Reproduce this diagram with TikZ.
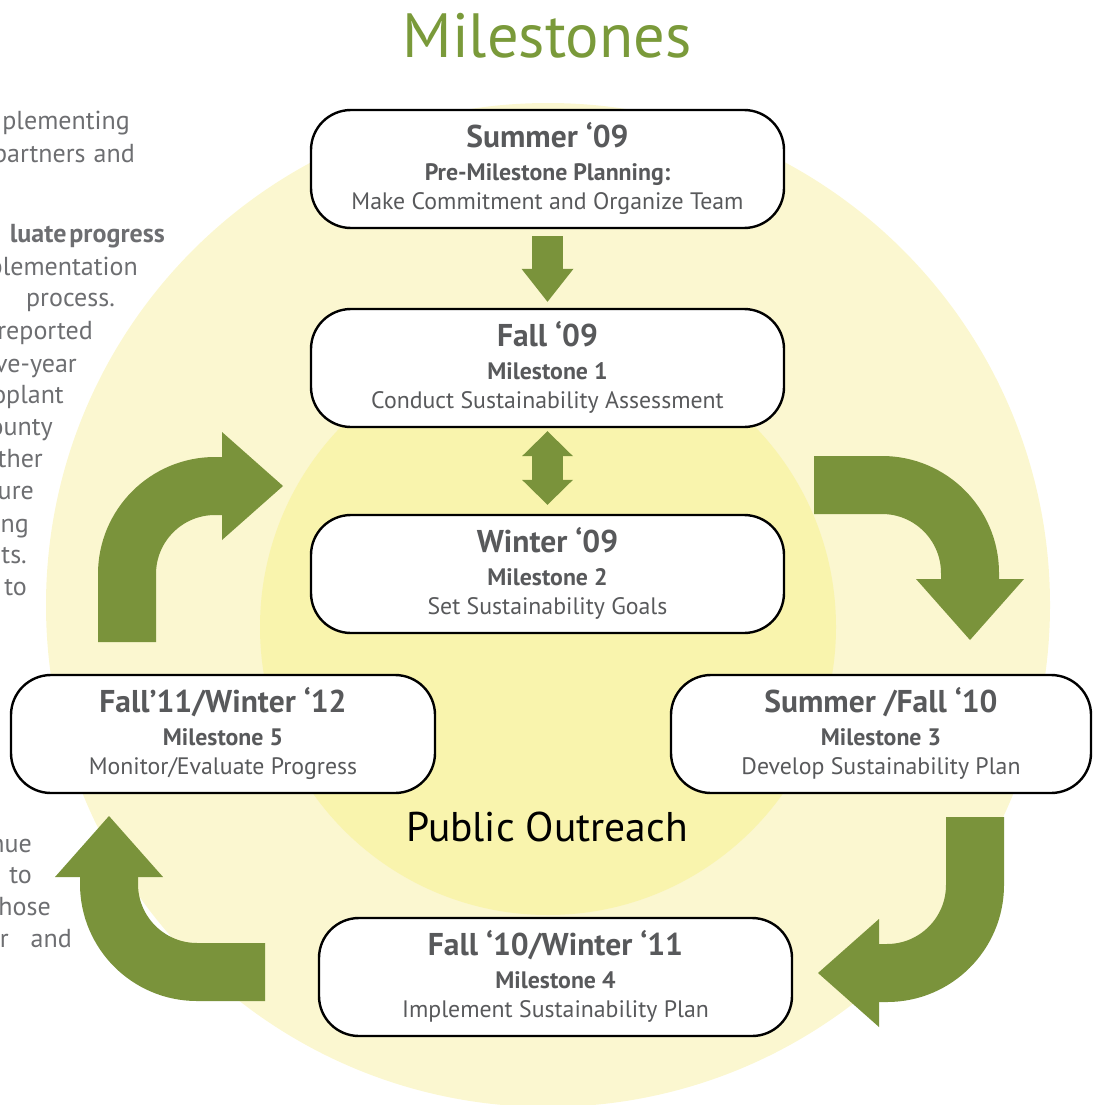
\documentclass[tikz,border=0pt]{standalone}
\usepackage{fontspec}
\setmainfont{PT Sans}
\usetikzlibrary{arrows.meta,calc}
\definecolor{cOut}{HTML}{FBF7D0}
\definecolor{cIn}{HTML}{F9F4AD}
\definecolor{cLeaf}{HTML}{7A933B}
\definecolor{cHead}{HTML}{7A9A3A}
\definecolor{cTxt}{HTML}{58595B}
\definecolor{cSide}{HTML}{6D6E71}
% three lines of a milestone box: period, step, task
\newcommand\msText[3]{\rule{0pt}{25pt}{\fontsize{31.5}{30}\selectfont\bfseries #1}\\[4pt]{\bfseries #2}\\#3\rule[-7pt]{0pt}{7pt}}

\begin{document}
\begin{tikzpicture}[x=1pt,y=-1pt,
  mbox/.style={draw=black,line width=2.4pt,fill=white,rounded corners=40pt,minimum width=473pt,minimum height=118pt,inner sep=0pt,align=center,text=cTxt,font=\fontsize{23.8}{29}\selectfont},
  leaf/.style={draw=cLeaf,line width=58pt,rounded corners=88pt,-{Triangle[length=61pt,width=108pt,line width=0pt]}},
  stem/.style={draw=cLeaf,line width=31pt},
  side/.style={anchor=base east,inner sep=0pt,text=cSide,font=\fontsize{26}{30}\selectfont}]
\useasboundingbox (0,0) rectangle (1093,1105);
\clip (0,0) rectangle (1093,1105);
% ---------- background discs ----------
\fill[cOut] (548,605) circle[radius=502pt];
\fill[cIn] (548,627) circle[radius=288pt];
% ---------- text running along the left edge ----------
\node[side] (t1) at (130,130) {plementing};
\node[side] (t2) at (135,162) {partners\hspace{8pt}and};
\node[side] (t3) at (165,242) {\bfseries luate\hspace{3pt}progress};
\node[side] (t4) at (138,275) {plementation};
\node[side] (t5) at (115,306) {process.};
\node[side] (t6) at (93,339) {reported};
\node[side] (t7) at (77,372) {ve-year};
\node[side] (t8) at (64,403) {oplant};
\node[side] (t9) at (53,435) {ounty};
\node[side] (t10) at (43,467) {ther};
\node[side] (t11) at (34,499) {ure};
\node[side] (t12) at (29,532) {ng};
\node[side] (t13) at (27,563) {nts.};
\node[side] (t14) at (27,595) {to};
\node[side] (t15) at (32,852) {nue};
\node[side] (t16) at (32,883) {to};
\node[side] (t17) at (51,915) {hose};
\node[side] (t18) at (72,947) {r\hspace{22pt}and};
% ---------- headings ----------
\node[anchor=base,text=cHead,font=\fontsize{62.5}{62}\selectfont] (title) at (547,58) {Milestones};
\node[anchor=base,font=\fontsize{41.5}{41}\selectfont] (pub) at (547,841) {Public Outreach};
% ---------- milestone boxes ----------
\node[mbox] (sum09) at (547.5,169) {\msText{Summer ‘09}{Pre-Milestone Planning:}{Make Commitment and Organize Team}};
\node[mbox] (fall09) at (547.5,368) {\msText{Fall ‘09}{Milestone 1}{Conduct Sustainability Assessment}};
\node[mbox] (win09) at (547.5,574) {\msText{Winter ‘09}{Milestone 2}{Set Sustainability Goals}};
\node[mbox,minimum width=420pt] (ms3) at (881,734) {\msText{Summer /Fall ‘10}{Milestone 3}{Develop Sustainability Plan}};
\node[mbox] (ms4) at (555.5,977) {\msText{Fall ‘10/Winter ‘11}{Milestone 4}{Implement Sustainability Plan}};
\node[mbox,minimum width=424pt] (ms5) at (223,734) {\msText{Fall’11/Winter ‘12}{Milestone 5}{Monitor/Evaluate Progress}};
% ---------- straight arrows ----------
\draw[stem,-{Triangle[length=33pt,width=52pt,line width=0pt]},shorten <=7pt,shorten >=6pt] (sum09) -- (fall09);
\draw[stem,{Triangle[length=25pt,width=51pt,line width=0pt]}-{Triangle[length=25pt,width=51pt,line width=0pt]},shorten <=3pt,shorten >=9pt] (fall09) -- (win09);
% ---------- curved arrows round the cycle ----------
\coordinate (lA) at (127,642);
\coordinate (lB) at (283,486);
\coordinate (rA) at (814,485);
\coordinate (rB) at (970,640);
\coordinate (dA) at (975,817);
\coordinate (dB) at (818,973);
\coordinate (bA) at (265,972);
\coordinate (bB) at (109,816);
\draw[leaf] (lA) |- (lB);
\draw[leaf] (rA) -| (rB);
\draw[leaf] (dA) |- (dB);
\draw[leaf] (bA) -| (bB);
\end{tikzpicture}
\end{document}
